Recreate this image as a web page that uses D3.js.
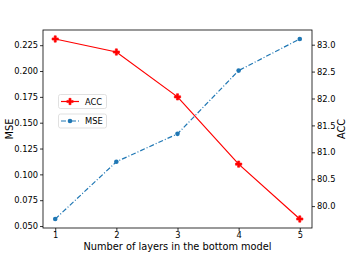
<!DOCTYPE html>
<html><head><meta charset="utf-8">
<script src="https://cdn.jsdelivr.net/npm/d3@7"></script>
<style>body{margin:0;background:#fff}svg{display:block}text{font-family:"DejaVu Sans",sans-serif}</style>
</head><body><svg id="c" width="347" height="256"></svg>
<script>
const layers = [1, 2, 3, 4, 5];
const accValues = [83.106, 82.864, 82.03, 80.78, 79.76];
const mseValues = [0.0568, 0.1122, 0.1392, 0.2004, 0.231];
const mseTicks = [0.050, 0.075, 0.100, 0.125, 0.150, 0.175, 0.200, 0.225];
const accTicks = [80.0, 80.5, 81.0, 81.5, 82.0, 82.5, 83.0];
const xLabel = "Number of layers in the bottom model";

const svg = d3.select("#c");
const L = 43, R = 312, T = 30, B = 228;
const x = d3.scaleLinear().domain([0.8, 5.2]).range([L, R]);
const yL = d3.scaleLinear().domain([0.0481, 0.2397]).range([B, T]);
const yR = d3.scaleLinear().domain([79.593, 83.273]).range([B, T]);

const fs = 8.3;
function styleAxis(g){
  g.selectAll("path").attr("stroke","#000").attr("stroke-width",0.8);
  g.selectAll("line").attr("stroke","#000").attr("stroke-width",0.8);
  g.selectAll("text").attr("font-size",fs).attr("fill","#000").attr("font-family","DejaVu Sans");
}
const gx = svg.append("g").attr("transform",`translate(0,${B})`)
  .call(d3.axisBottom(x).tickValues(layers).tickFormat(d3.format("d")).tickSize(3).tickPadding(1).tickSizeOuter(0));
styleAxis(gx); gx.select("path").remove();
const gl = svg.append("g").attr("transform",`translate(${L},0)`)
  .call(d3.axisLeft(yL).tickValues(mseTicks).tickFormat(d3.format(".3f")).tickSize(3).tickPadding(2).tickSizeOuter(0));
styleAxis(gl); gl.select("path").remove();
const gr = svg.append("g").attr("transform",`translate(${R},0)`)
  .call(d3.axisRight(yR).tickValues(accTicks).tickFormat(d3.format(".1f")).tickSize(3).tickPadding(2).tickSizeOuter(0));
styleAxis(gr); gr.select("path").remove();

svg.append("rect").attr("x",L).attr("y",T).attr("width",R-L).attr("height",B-T)
  .attr("fill","none").attr("stroke","#000").attr("stroke-width",0.8);

// MSE line (blue, dash-dot)
const blue = "#1f77b4", red = "#ff0000";
svg.append("path").datum(layers.map((l,i)=>[l,mseValues[i]]))
  .attr("d", d3.line().x(d=>x(d[0])).y(d=>yL(d[1])))
  .attr("fill","none").attr("stroke",blue).attr("stroke-width",1.2).attr("stroke-dasharray","5,2,1,2");
svg.append("g").selectAll("circle").data(layers).join("circle")
  .attr("cx",d=>x(d)).attr("cy",(d,i)=>yL(mseValues[i])).attr("r",2.3).attr("fill",blue);

// ACC line (red)
svg.append("path").datum(layers.map((l,i)=>[l,accValues[i]]))
  .attr("d", d3.line().x(d=>x(d[0])).y(d=>yR(d[1])))
  .attr("fill","none").attr("stroke",red).attr("stroke-width",1.2);
const plus = d3.symbol().type(d3.symbolCross).size(22);
svg.append("g").selectAll("path").data(layers).join("path")
  .attr("transform",(d,i)=>`translate(${x(d)},${yR(accValues[i])})`)
  .attr("d",plus()).attr("fill",red).attr("stroke",red).attr("stroke-width",0.6);

// axis labels
svg.append("text").attr("x",(L+R)/2).attr("y",249.5).attr("text-anchor","middle").attr("font-size",9.8).text(xLabel);
svg.append("text").attr("transform",`translate(12.5,${(T+B)/2}) rotate(-90)`).attr("text-anchor","middle").attr("font-size",9.8).text("MSE");
svg.append("text").attr("transform",`translate(345,${(T+B)/2}) rotate(-90)`).attr("text-anchor","middle").attr("font-size",9.8).text("ACC");

// legends
function legend(y0, label, color, dashed, marker){
  const g = svg.append("g");
  g.append("rect").attr("x",58.5).attr("y",y0).attr("width",48).attr("height",14).attr("rx",2)
    .attr("fill","#fff").attr("fill-opacity",0.8).attr("stroke","#d9d9d9").attr("stroke-width",0.8);
  g.append("line").attr("x1",61).attr("x2",79).attr("y1",y0+7).attr("y2",y0+7)
    .attr("stroke",color).attr("stroke-width",1.2).attr("stroke-dasharray",dashed?"5,2,1,2":null);
  if(marker==="plus") g.append("path").attr("transform",`translate(70,${y0+7})`).attr("d",plus()).attr("fill",color).attr("stroke",color).attr("stroke-width",0.6);
  else g.append("circle").attr("cx",70).attr("cy",y0+7).attr("r",2.3).attr("fill",color);
  g.append("text").attr("x",85).attr("y",y0+10).attr("font-size",fs).text(label);
}
legend(94.5, "ACC", red, false, "plus");
legend(114, "MSE", blue, true, "circle");
</script></body></html>
